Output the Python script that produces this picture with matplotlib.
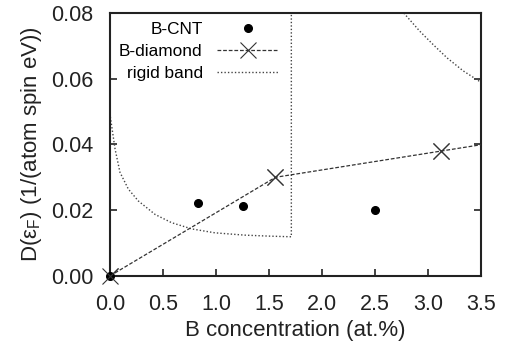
import matplotlib
matplotlib.use("Agg")
import matplotlib.pyplot as plt

plt.rcParams["font.family"] = ["Liberation Sans", "DejaVu Sans"]
plt.rcParams["mathtext.fontset"] = "custom"
plt.rcParams["mathtext.rm"] = "Liberation Sans"
plt.rcParams["mathtext.it"] = "Liberation Sans:italic"

# B-doped carbon nanotubes
cnt_x = [0.0, 0.83, 1.25, 2.5]
cnt_y = [0.0, 0.0221, 0.0212, 0.0201]

# B-doped diamond (last point lies past the x range, line runs to the edge)
dia_x = [0.0, 1.56, 3.125, 4.69]
dia_y = [0.0, 0.030, 0.038, 0.046]

# rigid band estimate, first branch (ends with the vertical jump)
rb1_x = [0.003, 0.047, 0.094, 0.173, 0.267, 0.425, 0.58, 0.77, 0.99, 1.27, 1.50, 1.71, 1.71]
rb1_y = [0.0484, 0.0387, 0.0315, 0.0264, 0.0228, 0.0187, 0.0162, 0.0143, 0.0131, 0.0124,
         0.0121, 0.0119, 0.0830]

# second branch, top right
rb2_x = [2.75, 2.77, 2.92, 3.05, 3.18, 3.33, 3.48, 3.52]
rb2_y = [0.0808, 0.0800, 0.0745, 0.0703, 0.0663, 0.0624, 0.0593, 0.0588]

x_ticks = [0.0, 0.5, 1.0, 1.5, 2.0, 2.5, 3.0, 3.5]
y_ticks = [0.00, 0.02, 0.04, 0.06, 0.08]

fig = plt.figure(figsize=(5.07, 3.51), dpi=100)
ax = fig.add_axes([0.217, 0.214, 0.732, 0.749])

ax.plot(cnt_x, cnt_y, linestyle="none", marker="o", markersize=5.5,
        color="black", label="B-CNT", zorder=4, clip_on=False)
ax.plot(dia_x, dia_y, linestyle=(0, (3, 1.5)), linewidth=0.9, color="#333333",
        marker="x", markersize=11, markeredgewidth=0.8, label="B-diamond", zorder=3)
# markers again unclipped so the one at the origin shows whole
ax.plot(dia_x[:3], dia_y[:3], linestyle="none", color="#333333",
        marker="x", markersize=11, markeredgewidth=0.8, zorder=5, clip_on=False)
ax.plot(rb1_x, rb1_y, linestyle=(0, (1, 1.5)), linewidth=1.0, color="#444444",
        label="rigid band", zorder=2)
ax.plot(rb2_x, rb2_y, linestyle=(0, (1, 1.5)), linewidth=1.0, color="#444444", zorder=2)

ax.set_xlim(0, 3.5)
ax.set_ylim(0, 0.08)
ax.set_xticks(x_ticks)
ax.set_xticklabels([f"{v:.1f}" for v in x_ticks])
ax.set_yticks(y_ticks)
ax.set_yticklabels([f"{v:.2f}" for v in y_ticks])

for s in ax.spines.values():
    s.set_linewidth(1.5)
    s.set_color("#222222")
ax.tick_params(direction="in", length=5, width=1.2, labelsize=15.5,
               right=True, top=False, colors="#222222")
ax.tick_params(axis="x", pad=13)
ax.tick_params(axis="y", pad=12)

ax.set_xlabel("B concentration (at.%)", fontsize=16, labelpad=4, color="#222222")
ax.set_ylabel(r"D(ε$_\mathrm{F}$) (1/(atom spin eV))", fontsize=16, labelpad=5,
              color="#222222")

ax.legend(loc="upper left", frameon=False, markerfirst=False, fontsize=12.4,
          handlelength=3.5, handletextpad=0.85, labelspacing=0.4,
          borderaxespad=0.3, bbox_to_anchor=(-0.008, 1.01))

fig.savefig("out.png", dpi=100)
